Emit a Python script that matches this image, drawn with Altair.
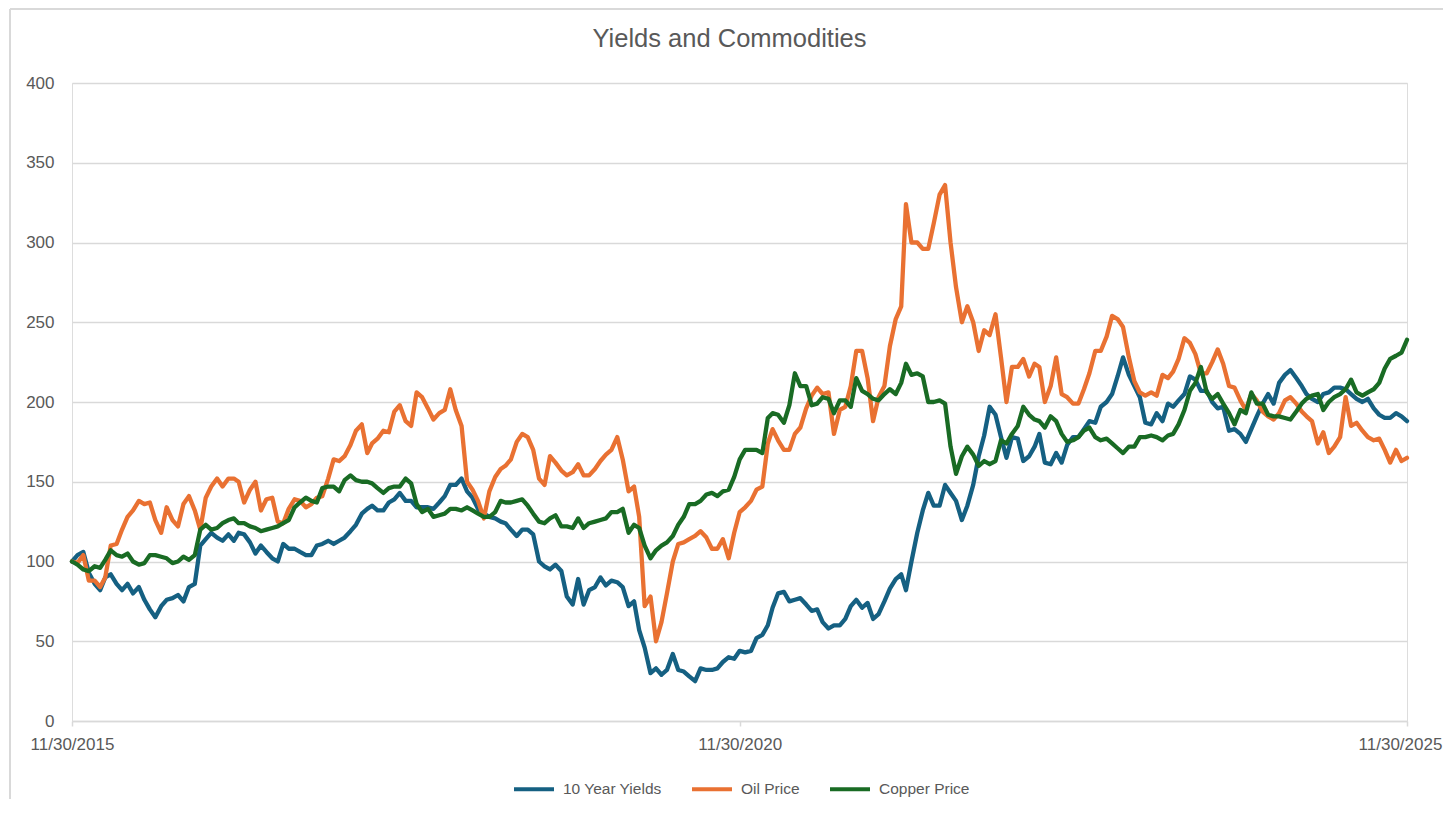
import calendar
import altair as alt
import pandas as pd

# ---- data (semi-monthly observations, indexed to 100 at 11/30/2015) ----
yields_10y = [
    100, 104, 106, 93, 86, 82, 90, 92, 86, 82,
    86, 80, 84, 76, 70, 65, 72, 76, 77, 79,
    75, 84, 86, 110, 114, 118, 115, 113, 117, 113,
    118, 117, 112, 105, 110, 106, 102, 100, 111, 108,
    108, 106, 104, 104, 110, 111, 113, 111, 113, 115,
    119, 123, 130, 133, 135, 132, 132, 137, 139, 143,
    138, 138, 134, 134, 134, 133, 137, 141, 148, 148,
    152, 144, 140, 133, 130, 128, 127, 125, 124, 120,
    116, 120, 120, 117, 100, 97, 95, 98, 94, 78,
    73, 89, 73, 82, 84, 90, 85, 88, 87, 84,
    72, 75, 57, 46, 30, 33, 29, 32, 42, 32,
    31, 28, 25, 33, 32, 32, 33, 37, 40, 39,
    44, 43, 44, 52, 54, 60, 71, 80, 81, 75,
    76, 77, 73, 69, 70, 62, 58, 60, 60, 64,
    72, 76, 71, 74, 64, 67, 75, 83, 89, 92,
    82, 100, 118, 132, 143, 135, 135, 148, 143, 138,
    126, 135, 148, 166, 179, 197, 192, 178, 165, 178,
    177, 163, 166, 172, 180, 162, 161, 168, 162, 173,
    178, 178, 183, 188, 187, 197, 200, 205, 216, 228,
    217, 210, 203, 187, 186, 193, 188, 199, 197, 201,
    205, 216, 214, 207, 207, 200, 196, 197, 182, 183,
    180, 175, 183, 191, 199, 205, 199, 212, 217, 220,
    215, 210, 205, 202, 200, 205, 206, 209, 209, 208,
    205, 202, 200, 202, 196, 192, 190, 190, 193, 191, 188,
]

oil_price = [
    100, 99, 104, 88, 88, 84, 90, 110, 111, 120,
    128, 132, 138, 136, 137, 126, 118, 134, 126, 122,
    136, 141, 132, 120, 140, 147, 152, 147, 152, 152,
    150, 137, 145, 150, 132, 139, 140, 125, 124, 133,
    139, 138, 134, 136, 140, 141, 152, 164, 163, 166,
    173, 182, 186, 168, 174, 177, 182, 181, 194, 198,
    188, 185, 206, 203, 196, 189, 193, 195, 208, 195,
    185, 150, 145, 138, 127, 144, 153, 158, 160, 164,
    175, 180, 178, 170, 152, 148, 166, 162, 157, 154,
    156, 161, 154, 154, 158, 163, 167, 170, 178, 164,
    144, 147, 128, 72, 78, 50, 62, 80, 100, 111,
    112, 114, 116, 119, 115, 108, 108, 114, 102, 118,
    131, 134, 138, 145, 147, 174, 183, 176, 170, 170,
    180, 184, 196, 204, 209, 205, 206, 180, 195, 197,
    210, 232, 232, 215, 188, 203, 210, 235, 252, 260,
    324, 300, 300, 296, 296, 312, 330, 336, 300, 272,
    250, 260, 250, 232, 245, 242, 255, 228, 200, 222,
    222, 227, 216, 224, 222, 200, 210, 228, 205, 203,
    199, 199, 208, 218, 232, 232, 241, 254, 252, 247,
    228, 213, 206, 204, 206, 204, 217, 215, 219, 227,
    240, 237, 230, 218, 218, 225, 233, 224, 210, 209,
    201, 195, 205, 201, 194, 191, 189, 193, 201, 203,
    199, 194, 191, 188, 174, 181, 168, 172, 178, 203,
    185, 187, 182, 178, 176, 177, 170, 162, 170, 163, 165,
]

copper_price = [
    100, 98, 95, 94, 97, 96, 101, 107, 104, 103,
    105, 100, 98, 99, 104, 104, 103, 102, 99, 100,
    103, 101, 104, 120, 123, 120, 121, 124, 126, 127,
    124, 124, 122, 121, 119, 120, 121, 122, 124, 126,
    134, 137, 140, 138, 137, 146, 147, 147, 144, 151,
    154, 151, 150, 150, 149, 146, 143, 146, 147, 147,
    152, 149, 136, 131, 133, 128, 129, 130, 133, 133,
    132, 134, 132, 130, 128, 128, 131, 138, 137, 137,
    138, 139, 135, 130, 125, 124, 127, 129, 122, 122,
    121, 127, 121, 124, 125, 126, 127, 131, 131, 133,
    118, 123, 121, 110, 102, 107, 110, 112, 116, 123,
    128, 136, 136, 138, 142, 143, 141, 144, 145, 153,
    164, 170, 170, 170, 168, 190, 193, 192, 187, 198,
    218, 210, 210, 198, 199, 203, 202, 193, 201, 201,
    197, 215, 207, 205, 202, 201, 205, 208, 205, 212,
    224, 217, 218, 216, 200, 200, 201, 199, 172, 155,
    166, 172, 167, 160, 163, 161, 163, 176, 174, 180,
    185, 197, 192, 189, 188, 184, 191, 188, 180, 175,
    176, 178, 182, 184, 178, 176, 177, 174, 171, 168,
    172, 172, 178, 178, 179, 178, 176, 179, 180, 186,
    195, 207, 212, 222, 206, 202, 205, 199, 193, 186,
    195, 193, 206, 199, 199, 192, 191, 191, 190, 189,
    194, 199, 202, 204, 205, 195, 200, 203, 205, 208,
    214, 206, 204, 206, 208, 212, 221, 227, 229, 231, 239,
]

series_names = ["10 Year Yields", "Oil Price", "Copper Price"]
series_colors = ["#156082", "#E97132", "#196B24"]
tick_years = [2015, 2020, 2025]

# semi-monthly dates: 15th and month end, from 11/30/2015 to 11/30/2025
dates = ["2015-11-30"]
y, m = 2015, 12
while (y, m) <= (2025, 11):
    dates.append(f"{y}-{m:02d}-15")
    dates.append(f"{y}-{m:02d}-{calendar.monthrange(y, m)[1]:02d}")
    m += 1
    if m > 12:
        m, y = 1, y + 1

rows = []
for name, vals in zip(series_names, [yields_10y, oil_price, copper_price]):
    for d, v in zip(dates, vals):
        rows.append({"date": d, "series": name, "value": v})
df = pd.DataFrame(rows)

GRAY_TXT = "#595959"
GRID = "#d9d9d9"
FONT = "Liberation Sans"

tick_vals = [alt.DateTime(year=yr, month=11, date=30) for yr in tick_years]

lines = alt.Chart(df).mark_line(strokeWidth=4.3, strokeJoin="round", strokeCap="round").encode(
    x=alt.X(
        "date:T",
        scale=alt.Scale(domain=[tick_vals[0], tick_vals[-1]], nice=False),
        axis=alt.Axis(
            values=tick_vals, format="%m/%d/%Y", title=None, grid=False,
            domainColor=GRID, domainWidth=1.5, tickColor=GRID, tickWidth=1.5, tickSize=5,
            labelColor=GRAY_TXT, labelFont=FONT, labelFontSize=17, labelPadding=10,
            labelFlush=False, labelOverlap=False, labelBound=False,
            # nudge the last label slightly so it stays inside the page
            labelOffset={
                "condition": {"test": "+datum.value > +datetime(2024, 0, 1)", "value": -7},
                "value": 0,
            },
        ),
    ),
    y=alt.Y(
        "value:Q",
        scale=alt.Scale(domain=[0, 400], nice=False),
        axis=alt.Axis(
            values=list(range(0, 401, 50)), title=None, domain=False, ticks=False,
            grid=True, gridColor=GRID, gridWidth=1.5,
            labelColor=GRAY_TXT, labelFont=FONT, labelFontSize=17, labelPadding=18,
        ),
    ),
    color=alt.Color(
        "series:N",
        scale=alt.Scale(domain=series_names, range=series_colors),
        legend=alt.Legend(
            title=None, orient="none", direction="horizontal",
            legendX=440, legendY=684,
            symbolType="stroke", symbolSize=1600, symbolStrokeWidth=4,
            labelColor=GRAY_TXT, labelFont=FONT, labelFontSize=15.5,
            labelOffset=7, columnPadding=22, padding=0,
        ),
    ),
)

# light outer chart frame (left and top edges only)
frame_df = pd.DataFrame({"k": [0]})
frame_left = alt.Chart(frame_df).mark_rule(color=GRID, strokeWidth=2).encode(
    x=alt.value(-62), y=alt.value(-74), y2=alt.value(740)
)
frame_top = alt.Chart(frame_df).mark_rule(color=GRID, strokeWidth=2).encode(
    x=alt.value(-62), x2=alt.value(1400), y=alt.value(-74)
)

chart = alt.layer(frame_left, frame_top, lines).properties(
    width=1335,
    height=638,
    title=alt.TitleParams(
        "Yields and Commodities", font=FONT, fontSize=25.5, fontWeight="normal",
        color=GRAY_TXT, anchor="middle", dx=-10, offset=-64, baseline="alphabetic",
    ),
    autosize=alt.AutoSizeParams(type="none"),
    padding={"left": 64, "top": 75, "right": 36, "bottom": 78},
).configure_view(stroke=None).configure(background="white")

chart.save("out.html", embed_options={"renderer": "svg", "actions": False})
